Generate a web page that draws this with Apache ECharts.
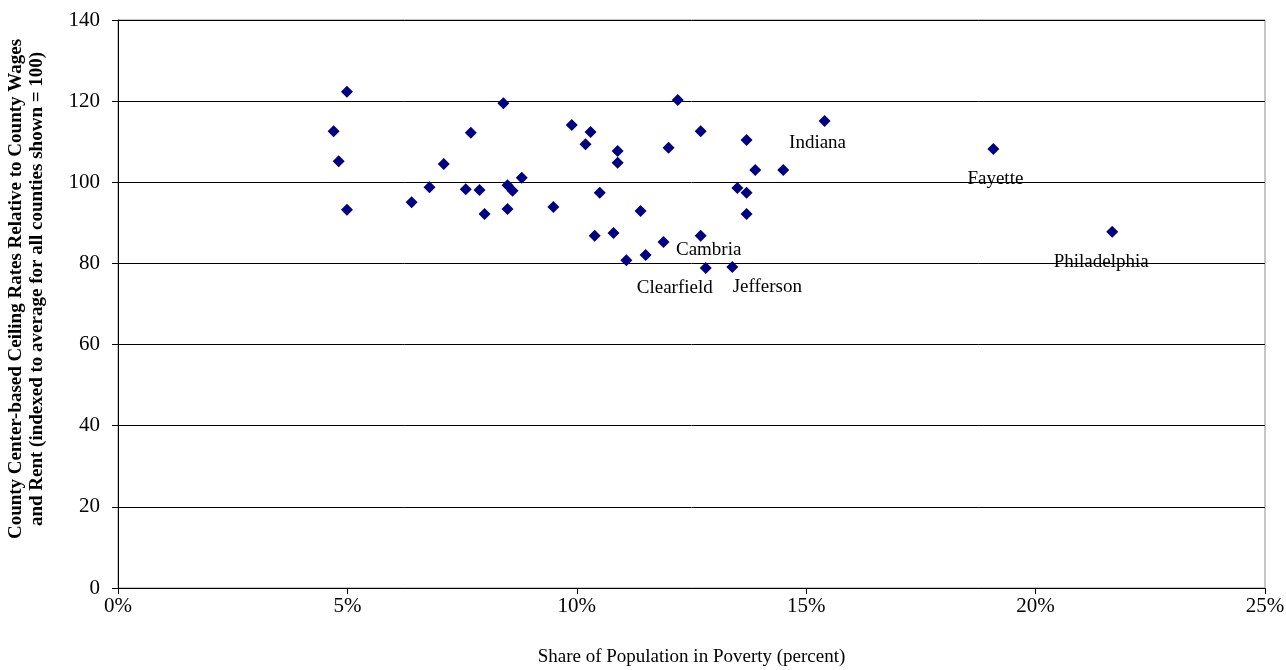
<!DOCTYPE html>
<html>
<head>
<meta charset="utf-8">
<script src="https://cdn.jsdelivr.net/npm/echarts@6/dist/echarts.min.js"></script>
<style>
  html, body { margin: 0; padding: 0; background: #fff; }
  #chart { width: 1286px; height: 670px; }
</style>
</head>
<body>
<div id="chart"></div>
<script>
// share of population in poverty (percent)
var povertyShare = [
    4.70, 4.81, 4.99, 4.99, 6.40, 6.79, 7.10, 7.58, 7.69, 7.88, 7.99,
    8.40, 8.49, 8.60, 8.49, 8.80, 9.49, 9.89, 10.19, 10.30, 10.50, 10.39,
    10.80, 10.89, 10.89, 11.08, 11.39, 11.50, 11.89, 12.00, 12.20, 12.70,
    12.70, 12.81, 13.39, 13.50, 13.70, 13.70, 13.70, 13.89, 14.50, 15.40,
    19.08, 21.67
];
// ceiling rates index (average = 100)
var ceilingIndex = [
    112.6, 105.2, 122.3, 93.2, 95.1, 98.8, 104.5, 98.3, 112.2, 98.1, 92.2,
    119.5, 99.3, 97.9, 93.4, 101.1, 93.9, 114.1, 109.4, 112.4, 97.4, 86.8,
    87.5, 107.7, 104.8, 80.8, 92.9, 82.1, 85.3, 108.5, 120.3, 112.6,
    86.8, 78.9, 79.1, 98.6, 110.4, 97.4, 92.2, 103.0, 103.0, 115.1,
    108.2, 87.8
];
// county names shown on the chart (index into the arrays above)
var labelIndex = [32, 33, 34, 41, 42, 43];
var labelNames = ['Cambria', 'Clearfield', 'Jefferson', 'Indiana', 'Fayette', 'Philadelphia'];

var xTicks = [0, 5, 10, 15, 20, 25];

// where each label sits relative to its point
var labelOffset = {
    'Cambria': [8, 14],
    'Clearfield': [-31, 20],
    'Jefferson': [35, 20],
    'Indiana': [-7, 22],
    'Fayette': [2, 30],
    'Philadelphia': [-11, 30]
};

var serif = 'Liberation Serif';

var points = povertyShare.map(function (x, i) {
    var item = {value: [x, ceilingIndex[i]]};
    var k = labelIndex.indexOf(i);
    if (k >= 0) {
        var name = labelNames[k];
        item.name = name;
        item.label = {
            show: true,
            position: 'inside',
            offset: labelOffset[name],
            formatter: name,
            color: '#000',
            opacity: 1,
            fontFamily: serif,
            fontSize: 19
        };
    }
    return item;
});

var chart = echarts.init(document.getElementById('chart'));
var option = {
    animation: false,
    textStyle: {fontFamily: serif},
    grid: {
        left: 118,
        right: 21,
        top: 20,
        bottom: 82,
        outerBoundsMode: 'none',
        containLabel: false,
        show: true,
        borderColor: '#8c8c8c',
        borderWidth: 1
    },
    xAxis: {
        type: 'value',
        min: xTicks[0],
        max: xTicks[xTicks.length - 1],
        interval: 5,
        name: 'Share of Population in Poverty (percent)',
        nameLocation: 'middle',
        nameGap: 60,
        nameTextStyle: {fontFamily: serif, fontSize: 19, color: '#000'},
        axisLine: {lineStyle: {color: '#000', width: 1}},
        axisTick: {show: true, length: 6, lineStyle: {color: '#000'}},
        axisLabel: {formatter: '{value}%', fontFamily: serif, fontSize: 21, color: '#000', margin: 8},
        splitLine: {show: false}
    },
    yAxis: {
        type: 'value',
        min: 0,
        max: 140,
        interval: 20,
        name: 'County Center-based Ceiling Rates Relative to County Wages\nand Rent (indexed to average for all counties shown = 100)',
        nameLocation: 'middle',
        nameGap: 70,
        nameTextStyle: {
            fontFamily: serif, fontSize: 19, fontWeight: 'bold', color: '#000',
            lineHeight: 21, padding: [0, 0, 0, 30]
        },
        axisLine: {show: true, lineStyle: {color: '#000', width: 1}},
        axisTick: {show: true, length: 6, lineStyle: {color: '#000'}},
        axisLabel: {fontFamily: serif, fontSize: 21, color: '#000', margin: 18},
        splitLine: {show: true, lineStyle: {color: '#000', width: 1}}
    },
    series: [
        {
            type: 'scatter',
            symbol: 'diamond',
            symbolSize: 12,
            itemStyle: {color: '#000080', opacity: 1},
            data: points
        }
    ]
};
chart.setOption(option);
</script>
</body>
</html>
